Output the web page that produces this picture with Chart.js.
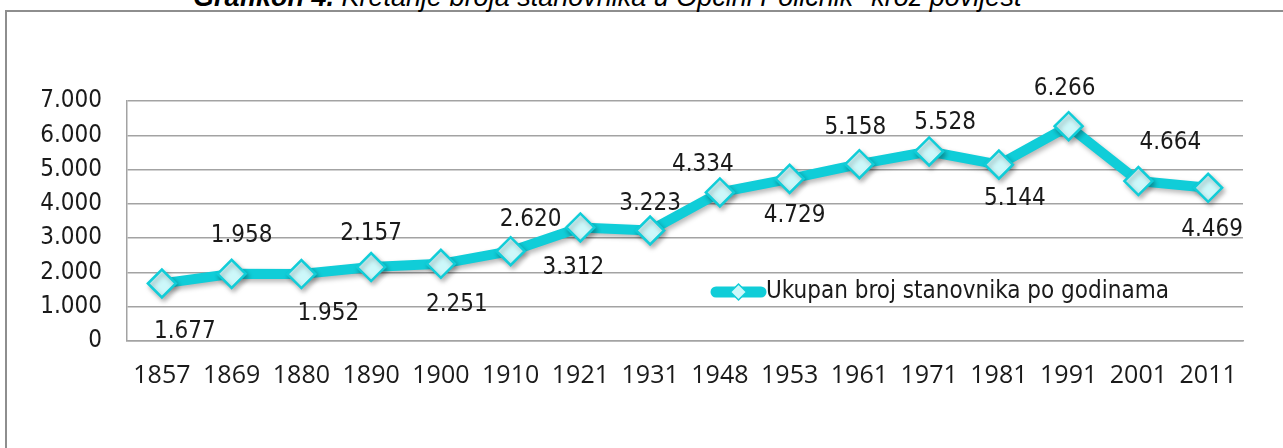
<!DOCTYPE html>
<html>
<head>
<meta charset="utf-8">
<script src="https://cdn.jsdelivr.net/npm/chart.js@4.4.1/dist/chart.umd.min.js"></script>
<style>
  html, body { margin: 0; padding: 0; background: #fff; width: 1283px; height: 448px; overflow: hidden; }
  #wrap { position: relative; width: 1283px; height: 448px; }
  #title { position: absolute; left: 193px; top: -16px; font-family: "Liberation Sans", Arial, sans-serif; font-size: 27px; font-style: italic; line-height: 27px; white-space: nowrap; color: #000; }
  #title b { font-weight: bold; }
  #frame { position: absolute; left: 5px; top: 10px; width: 1300px; height: 460px; border-left: 2px solid #8e8e8e; border-top: 2px solid #8e8e8e; box-sizing: border-box; }
  canvas { position: absolute; left: 0; top: 0; }
</style>
</head>
<body>
<div id="wrap">
  <div id="frame"></div>
  <div id="title"><b>Grafikon 4.</b> Kretanje broja stanovnika u Općini Polićnik* kroz povijest</div>
  <canvas id="c" width="1283" height="448"></canvas>
</div>
<script>
// ---- data ----
const years = ["1857","1869","1880","1890","1900","1910","1921","1931","1948","1953","1961","1971","1981","1991","2001","2011"];
const population = [1677, 1958, 1952, 2157, 2251, 2620, 3312, 3223, 4334, 4729, 5158, 5528, 5144, 6266, 4664, 4469];
const seriesName = "Ukupan broj stanovnika po godinama";
const yTicks = [0, 1000, 2000, 3000, 4000, 5000, 6000, 7000];

// ---- label placement (styling, not data) ----
const labelOffsets = [[23,48],[10,-38],[27,40],[0,-33],[16,41],[20,-31],[-7,40],[0,-27],[-17,-28],[5,37],[-4,-36],[16,-29],[16,34],[-4,-37],[32,-38],[4,42]];

const LINE = "#10cdd8";
const FILL = "#cdf8fa";
const TXT = "#1a1a1a";
const tahoma = '"DejaVu Sans Condensed", "DejaVu Sans", sans-serif';

function fmt(v) { return String(v).replace(/\B(?=(\d{3})+(?!\d))/g, "."); }

const shadowPlugin = {
  id: 'shadow',
  beforeDatasetsDraw(chart) {
    const ctx = chart.ctx;
    ctx.save();
    ctx.shadowColor = 'rgba(0,0,0,0.28)';
    ctx.shadowBlur = 5;
    ctx.shadowOffsetX = 2;
    ctx.shadowOffsetY = 3;
  },
  afterDatasetsDraw(chart) {
    chart.ctx.restore();
  }
};

const labelsPlugin = {
  id: 'valueLabels',
  afterDatasetsDraw(chart) {
    const ctx = chart.ctx;
    const meta = chart.getDatasetMeta(0);
    const data = chart.data.datasets[0].data;
    ctx.save();
    ctx.font = '24px ' + tahoma;
    ctx.fillStyle = TXT;
    ctx.textAlign = 'center';
    ctx.textBaseline = 'middle';
    meta.data.forEach((pt, i) => {
      const o = labelOffsets[i] || [0, -30];
      ctx.fillText(fmt(data[i]), pt.x + o[0], pt.y + o[1]);
    });
    ctx.restore();
  }
};

const legendPlugin = {
  id: 'customLegend',
  afterDraw(chart) {
    const ctx = chart.ctx;
    const ds = chart.data.datasets[0];
    const y = 292;
    const x0 = 716, x1 = 761;
    ctx.save();
    ctx.strokeStyle = LINE;
    ctx.lineWidth = 11;
    ctx.lineCap = 'round';
    ctx.beginPath(); ctx.moveTo(x0, y); ctx.lineTo(x1, y); ctx.stroke();
    const cx = (x0 + x1) / 2, r = 8;
    ctx.beginPath();
    ctx.moveTo(cx - r, y); ctx.lineTo(cx, y - r); ctx.lineTo(cx + r, y); ctx.lineTo(cx, y + r); ctx.closePath();
    ctx.fillStyle = FILL; ctx.fill();
    ctx.lineWidth = 1.5; ctx.strokeStyle = LINE; ctx.stroke();
    ctx.font = '24px ' + tahoma;
    ctx.fillStyle = TXT;
    ctx.textAlign = 'left';
    ctx.textBaseline = 'middle';
    ctx.fillText(ds.label, 766, y);
    ctx.restore();
  }
};

new Chart(document.getElementById('c'), {
  type: 'line',
  data: {
    labels: years,
    datasets: [{
      label: seriesName,
      data: population,
      borderColor: LINE,
      borderWidth: 10,
      borderJoinStyle: 'round',
      borderCapStyle: 'round',
      tension: 0,
      pointStyle: 'rectRot',
      pointRadius: 14,
      pointBackgroundColor: FILL,
      pointBorderColor: LINE,
      pointBorderWidth: 2.5,
      fill: false
    }]
  },
  options: {
    responsive: false,
    animation: false,
    events: [],
    layout: { padding: { left: 0, right: 40, top: 101, bottom: 0 } },
    plugins: { legend: { display: false }, title: { display: false }, tooltip: { enabled: false } },
    scales: {
      x: {
        offset: true,
        grid: { display: false, drawTicks: false },
        border: { display: true, color: '#a3a3a3', width: 1.5 },
        ticks: { color: TXT, font: { family: '"Open Sans", sans-serif', size: 25 }, padding: 20, maxRotation: 0, autoSkip: false },
        afterFit(s) { s.height = 107; }
      },
      y: {
        min: 0, max: 7000,
        afterBuildTicks(s) { s.ticks = yTicks.map(v => ({ value: v })); },
        grid: { color: '#a3a3a3', lineWidth: 1.5, drawTicks: false },
        border: { display: true, color: '#a3a3a3', width: 1.5 },
        ticks: { color: TXT, font: { family: tahoma, size: 24 }, padding: 25, callback: v => fmt(v) },
        afterFit(s) { s.width = 127; }
      }
    }
  },
  plugins: [shadowPlugin, labelsPlugin, legendPlugin]
});
</script>
</body>
</html>
